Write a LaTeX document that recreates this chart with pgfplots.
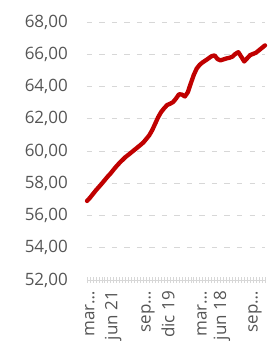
\documentclass[border=0pt]{standalone}
\usepackage{fontspec}
\setmainfont{Open Sans}
\usepackage{pgfplots}
\pgfplotsset{compat=1.18}
\definecolor{linered}{RGB}{192,0,0}
\definecolor{labelgray}{RGB}{85,85,85}
\definecolor{gridgray}{RGB}{215,215,215}
\begin{document}
\begin{tikzpicture}
\begin{axis}[
  name=ax,
  scale only axis,
  width=178pt, height=258pt,
  xmin=0, xmax=60,
  ymin=52, ymax=68,
  axis x line*=bottom,
  axis y line*=left,
  y axis line style={draw=none},
  x axis line style={gridgray, line width=0.8pt},
  ytick={52,54,...,68},
  yticklabels={{52,00},{54,00},{56,00},{58,00},{60,00},{62,00},{64,00},{66,00},{68,00}},
  xtick={1.0,8.8,20.6,27.3,38.8,45.5,56.6},
  xticklabels={mar…,jun 21,sep…,dic 19,mar…,jun 18,sep…},
  minor xtick={0,1,...,60},
  major tick length=0pt,
  minor tick length=6pt,
  tick align=center,
  every minor tick/.style={gridgray, line width=0.6pt},
  ymajorgrids,
  grid style={gridgray, line width=0.9pt, dash pattern=on 5.5pt off 7pt},
  tick label style={font=\fontsize{17}{20}\selectfont, text=labelgray, inner sep=0pt},
  yticklabel shift=19pt,
  xticklabel style={rotate=90, anchor=east},
  xticklabel shift=11pt,
  clip=false,
]
\addplot[linered, line width=4.3pt, line join=round, line cap=round] coordinates {
(0,56.9) (1,57.1) (2,57.33) (3,57.56) (4,57.77) (5,57.98) (6,58.2) (7,58.42)
(8,58.62) (9,58.85) (10,59.07) (11,59.27) (12,59.45) (13,59.63) (14,59.77)
(15,59.92) (16,60.07) (17,60.22) (18,60.37) (19,60.53) (20,60.75) (21,60.98)
(22,61.3) (23,61.7) (24,62.1) (25,62.42) (26,62.65) (27,62.85) (28,62.93)
(29,63.03) (30,63.25) (31,63.52) (32,63.5) (33,63.38) (34,63.65) (35,64.2)
(36,64.72) (37,65.12) (38,65.35) (39,65.5) (40,65.62) (41,65.75) (42,65.88)
(43,65.93) (44,65.7) (45,65.62) (46,65.68) (47,65.74) (48,65.78) (49,65.85)
(50,66.02) (51,66.13) (52,65.85) (53,65.55) (54,65.75) (55,65.95) (56,66.02)
(57,66.1) (58,66.25) (59,66.4) (60,66.55)
};
\end{axis}
\pgfresetboundingbox
\path (ax.south west) ++(-87pt,-63pt) rectangle ++(275pt,343pt);
\end{tikzpicture}
\end{document}
